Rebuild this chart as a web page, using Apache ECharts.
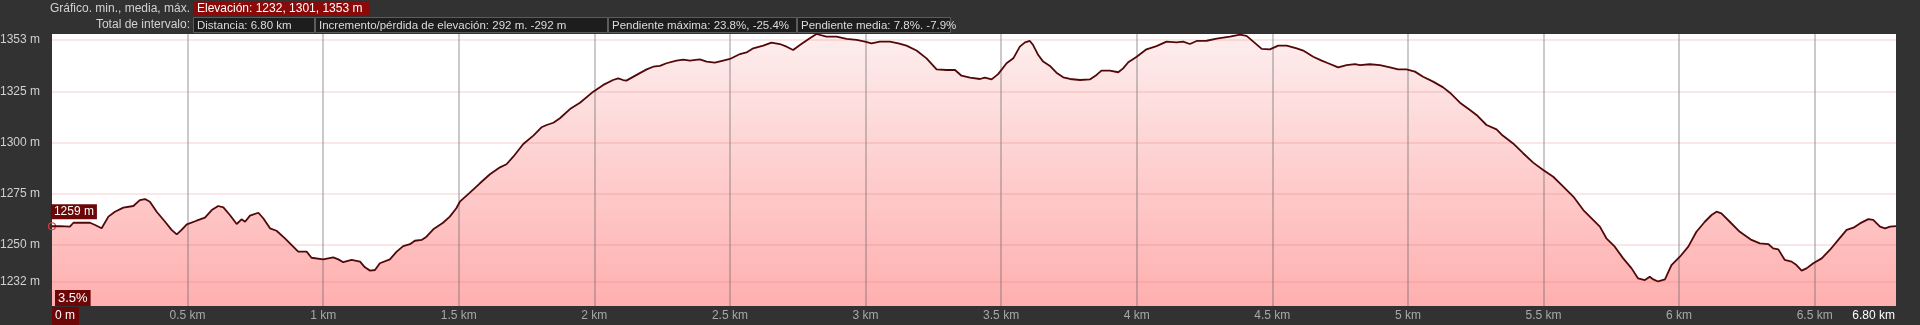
<!DOCTYPE html>
<html>
<head>
<meta charset="utf-8">
<script src="https://cdn.jsdelivr.net/npm/echarts@6/dist/echarts.min.js"></script>
<style>
html,body{margin:0;padding:0;background:#323232;}
#c{width:1920px;height:325px;}
</style>
</head>
<body>
<div id="c"></div>
<script>
// Distance (km) along the track
const distKm = [
  0, 0.030, 0.066, 0.079, 0.140, 0.159, 0.183, 0.208, 0.232, 0.263, 0.300, 0.324, 0.343, 0.361, 0.386, 0.417, 0.441, 0.460, 0.478, 0.497,
  0.533, 0.564, 0.589, 0.613, 0.632, 0.656, 0.681, 0.699, 0.712, 0.730, 0.761, 0.779, 0.804, 0.828, 0.859, 0.884, 0.908, 0.939, 0.957, 1.000,
  1.037, 1.056, 1.074, 1.105,
  1.136, 1.154, 1.173, 1.191, 1.209, 1.246, 1.271, 1.295, 1.320, 1.338, 1.363, 1.381, 1.406, 1.442, 1.467, 1.491, 1.504, 1.541, 1.578, 1.615,
  1.652, 1.676, 1.701, 1.738, 1.775, 1.805, 1.824, 1.849, 1.873, 1.910, 1.947, 1.996, 2.033, 2.069, 2.088, 2.106, 2.118, 2.156, 2.193, 2.217,
  2.242, 2.266, 2.303, 2.328,
  2.352, 2.389, 2.414, 2.444, 2.475, 2.500, 2.537, 2.561, 2.586, 2.623, 2.653, 2.684, 2.709, 2.733, 2.758, 2.789, 2.819, 2.856, 2.893, 2.930,
  2.967, 2.998, 3.022, 3.053, 3.090, 3.121, 3.151, 3.188, 3.225, 3.262, 3.299, 3.330, 3.354, 3.385, 3.422, 3.440, 3.465, 3.489,
  3.520, 3.545, 3.569, 3.588, 3.606, 3.618, 3.637, 3.655, 3.680, 3.704, 3.729, 3.754, 3.791, 3.827, 3.852, 3.870, 3.901, 3.932, 3.950, 3.969,
  4.000, 4.036, 4.073, 4.110, 4.147, 4.171, 4.196, 4.221, 4.258, 4.295, 4.344, 4.381, 4.405, 4.430, 4.461, 4.491, 4.522, 4.553, 4.590, 4.614,
  4.651, 4.682,
  4.706, 4.743, 4.774, 4.805, 4.823, 4.860, 4.897, 4.934, 4.964, 4.995, 5.026, 5.056, 5.093, 5.130, 5.155, 5.192, 5.229, 5.253, 5.290, 5.327,
  5.345, 5.388, 5.425, 5.462, 5.499, 5.536, 5.573, 5.610, 5.647, 5.683,
  5.708, 5.732, 5.763, 5.794, 5.825, 5.849, 5.874, 5.892, 5.905, 5.923, 5.948, 5.972, 6.003, 6.034, 6.064, 6.095, 6.120, 6.138, 6.156, 6.187,
  6.224, 6.267, 6.298, 6.329, 6.347, 6.366, 6.390, 6.415, 6.433, 6.452, 6.470, 6.495, 6.526, 6.556, 6.587, 6.618, 6.643, 6.667, 6.698, 6.716,
  6.741, 6.760, 6.778, 6.800
];
// Elevation (m) at each distance
const elevM = [
  1259.0, 1259.1, 1258.8, 1260.7, 1260.7, 1259.6, 1258.0, 1263.7, 1266.1, 1268.1, 1268.9, 1271.8, 1272.3, 1271.0, 1266.1, 1261.2, 1257.2, 1255.0, 1257.2, 1259.9,
  1261.7, 1263.2, 1266.9, 1268.9, 1268.2, 1264.5, 1260.1, 1262.4, 1261.2, 1264.2, 1265.6, 1262.9, 1258.0, 1256.8, 1253.1, 1249.8, 1246.6, 1246.6, 1243.6, 1242.8,
  1243.8, 1242.8, 1241.4, 1242.5,
  1241.7, 1238.9, 1237.3, 1237.6, 1240.9, 1242.8, 1246.6, 1249.3, 1250.2, 1251.9, 1252.3, 1253.9, 1257.5, 1260.7, 1263.7, 1267.8, 1271.0, 1275.4, 1280.0, 1284.4,
  1287.8, 1289.3, 1293.0, 1299.2, 1303.3, 1307.4, 1308.5, 1309.6, 1311.8, 1316.3, 1319.4, 1324.8, 1328.1, 1330.5, 1331.3, 1330.5, 1330.2, 1333.0, 1335.7, 1337.0,
  1337.4, 1338.7, 1340.0, 1340.5,
  1340.0, 1340.6, 1339.5, 1339.0, 1340.0, 1340.8, 1343.2, 1344.0, 1346.0, 1347.3, 1348.8, 1348.1, 1346.8, 1345.2, 1347.6, 1350.4, 1353.0, 1351.7, 1351.7, 1350.6,
  1350.1, 1349.3, 1348.4, 1349.3, 1349.3, 1348.4, 1347.3, 1344.9, 1341.1, 1335.7, 1335.4, 1335.4, 1332.6, 1331.7, 1331.0, 1331.7, 1330.8, 1333.4,
  1338.7, 1341.1, 1346.8, 1348.9, 1349.6, 1347.6, 1342.7, 1339.5, 1337.4, 1334.1, 1331.8, 1331.0, 1330.5, 1330.8, 1333.0, 1335.1, 1335.1, 1334.3, 1336.2, 1339.2,
  1341.9, 1345.5, 1347.1, 1349.3, 1348.9, 1349.3, 1348.1, 1349.6, 1349.7, 1350.7, 1351.7, 1352.7, 1352.1, 1349.3, 1345.7, 1345.5, 1347.3, 1347.3, 1346.0, 1344.9,
  1341.9, 1340.0,
  1338.7, 1336.7, 1337.8, 1338.3, 1337.8, 1338.2, 1337.8, 1336.7, 1335.7, 1335.7, 1334.6, 1332.1, 1329.7, 1326.9, 1324.3, 1319.4, 1315.8, 1313.4, 1308.5, 1306.4,
  1303.9, 1299.5, 1294.7, 1290.1, 1286.5, 1283.2, 1278.4, 1273.5, 1266.9, 1262.1,
  1258.8, 1253.1, 1249.0, 1243.3, 1238.4, 1233.5, 1232.7, 1234.3, 1233.0, 1232.0, 1233.0, 1240.0, 1244.1, 1249.0, 1256.3, 1261.2, 1264.5, 1266.1, 1265.3, 1261.2,
  1256.3, 1252.3, 1250.6, 1250.3, 1248.2, 1247.7, 1242.5, 1241.7, 1240.0, 1237.3, 1238.4, 1240.9, 1243.3, 1247.4, 1252.3, 1257.2, 1258.3, 1260.4, 1262.5, 1262.1,
  1258.8, 1258.0, 1258.8, 1259.1
];
// Axis ticks
const xTickValues = [0, 0.5, 1, 1.5, 2, 2.5, 3, 3.5, 4, 4.5, 5, 5.5, 6, 6.5, 6.8];
const xTickLabels = ['0 m', '0.5 km', '1 km', '1.5 km', '2 km', '2.5 km', '3 km', '3.5 km', '4 km', '4.5 km', '5 km', '5.5 km', '6 km', '6.5 km', '6.80 km'];
const yTickValues = [1350, 1325, 1300, 1275, 1250, 1232];
const yTickLabels = ['1353 m', '1325 m', '1300 m', '1275 m', '1250 m', '1232 m'];
// Header stats
const elevStats = [1232, 1301, 1353];
const headerBoxes = ['Distancia: 6.80 km', 'Incremento/pérdida de elevación: 292 m. -292 m', 'Pendiente máxima: 23.8%, -25.4%', 'Pendiente media: 7.8%. -7.9%'];
const cursorSlope = '3.5%';

const FONT = "'Liberation Sans', Arial, sans-serif";
const pts = distKm.map((d, i) => [d, elevM[i]]);

const boxX = [193, 315, 608, 797, 951];
const graphic = [
  {type: 'text', x: 190, y: 9, style: {text: 'Gráfico. min., media, máx.', fill: '#d2d2d2', font: '12px ' + FONT, align: 'right', verticalAlign: 'middle'}},
  {type: 'rect', shape: {x: 193, y: 1, width: 177, height: 15}, style: {fill: '#8a0a0a'}},
  {type: 'text', x: 197, y: 9, style: {text: 'Elevación: ' + elevStats.join(', ') + ' m', fill: '#ffffff', font: '12px ' + FONT, verticalAlign: 'middle'}},
  {type: 'text', x: 190, y: 25, style: {text: 'Total de intervalo:', fill: '#d2d2d2', font: '12px ' + FONT, align: 'right', verticalAlign: 'middle'}},
  {type: 'text', x: 55, y: 298, z: 20, style: {text: cursorSlope, fill: '#ffffff', font: '13px ' + FONT, verticalAlign: 'middle', backgroundColor: '#6b0707', padding: [2, 3, 1, 3]}}
];
headerBoxes.forEach((t, i) => {
  graphic.push({type: 'rect', shape: {x: boxX[i] + 0.5, y: 17.5, width: boxX[i + 1] - boxX[i] - 1, height: 15}, style: {fill: '#1d1d1d', stroke: '#5c5c5c', lineWidth: 1}});
  graphic.push({type: 'text', x: boxX[i] + 4, y: 25.5, style: {text: t, fill: '#dcdcdc', font: '11.5px ' + FONT, verticalAlign: 'middle'}});
});

const gridLines = [];
xTickValues.slice(1, -1).forEach(v => gridLines.push({xAxis: v, lineStyle: {color: 'rgba(95,95,95,0.33)', width: 2, type: 'solid'}}));
yTickValues.forEach(v => gridLines.push({yAxis: v, lineStyle: {color: 'rgba(220,95,95,0.15)', width: 2, type: 'solid'}}));

const chart = echarts.init(document.getElementById('c'));
chart.setOption({
  backgroundColor: '#323232',
  animation: false,
  textStyle: {fontFamily: FONT},
  graphic: graphic,
  grid: {left: 52, right: 24, top: 34, bottom: 19, show: true, backgroundColor: '#ffffff', borderWidth: 0, containLabel: false, outerBoundsMode: 'none'},
  xAxis: {
    type: 'value', min: 0, max: 6.8, interval: 0.5,
    axisLine: {show: false}, axisTick: {show: false}, splitLine: {show: false},
    axisLabel: {
      margin: 1, fontSize: 12, color: '#a8a8a8', alignMinLabel: 'left', alignMaxLabel: 'right',
      formatter: v => {
        const i = xTickValues.findIndex(t => Math.abs(t - v) < 1e-6);
        if (i < 0) return '';
        if (i === 0) return '{first|' + xTickLabels[i] + '}';
        if (i === xTickValues.length - 1) return '{last|' + xTickLabels[i] + '}';
        return '{mid|' + xTickLabels[i] + '}';
      },
      rich: {
        first: {color: '#ffffff', backgroundColor: '#6b0707', padding: [3, 4, 3, 3], fontSize: 12, fontFamily: FONT},
        mid: {color: '#a8a8a8', padding: [3, 0, 3, 0], fontSize: 12, fontFamily: FONT},
        last: {color: '#ffffff', padding: [3, 1, 3, 0], fontSize: 12, fontFamily: FONT}
      }
    }
  },
  yAxis: {
    type: 'value', min: 1220, max: 1353, interval: 1,
    axisLine: {show: false}, axisTick: {show: false}, splitLine: {show: false},
    axisLabel: {
      margin: 12, fontSize: 12, color: '#d0d0d0',
      formatter: v => {
        const i = yTickValues.indexOf(Math.round(v));
        return i < 0 ? '' : yTickLabels[i];
      }
    }
  },
  series: [
    {
      type: 'line', data: pts, z: 2, showSymbol: false, silent: true,
      lineStyle: {width: 0},
      areaStyle: {
        opacity: 1,
        color: new echarts.graphic.LinearGradient(0, 0, 0, 1, [
          {offset: 0, color: '#fdeeee'},
          {offset: 1, color: '#ffafaf'}
        ])
      },
      markLine: {silent: true, symbol: ['none', 'none'], label: {show: false}, emphasis: {disabled: true}, animation: false, data: gridLines}
    },
    {
      type: 'line', data: pts, z: 6, showSymbol: false, silent: true,
      lineStyle: {width: 1.8, color: '#520808'},
      markPoint: {
        silent: true, animation: false,
        symbol: 'circle', symbolSize: 7,
        itemStyle: {color: 'rgba(255,255,255,0)', borderColor: '#d04040', borderWidth: 1.2},
        label: {
          show: true, position: [3, -18], align: 'left', verticalAlign: 'top',
          formatter: p => Math.round(p.value) + ' m',
          color: '#ffffff', fontSize: 12, fontFamily: FONT, backgroundColor: '#6b0707', padding: [2, 3, 1, 3]
        },
        data: [{coord: pts[0], value: elevM[0]}]
      }
    }
  ]
});
</script>
</body>
</html>
